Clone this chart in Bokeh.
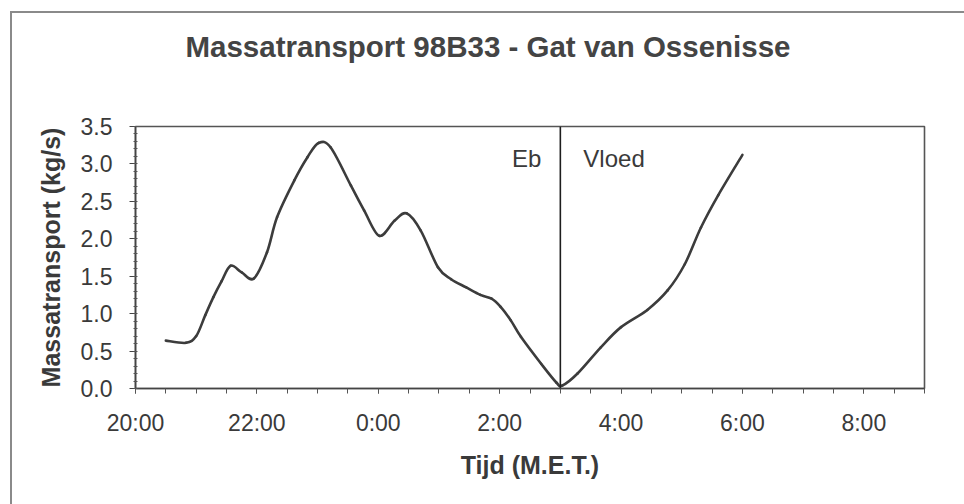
from bokeh.plotting import figure
from bokeh.layouts import column
from bokeh.models import Range1d, FixedTicker, Label, Span, Div, ColumnDataSource
from bokeh.embed import file_html
from bokeh.resources import INLINE

# Measured mass transport (kg/s) against clock time (M.E.T.)
times = ["20:30", "20:50", "21:00", "21:09", "21:17", "21:25", "21:34", "21:45",
         "21:57", "22:10", "22:20", "22:37", "22:50", "23:01", "23:13", "23:33",
         "23:46", "0:01", "0:16", "0:28", "0:42", "0:59", "1:12", "1:27",
         "1:41", "1:52", "2:01", "2:11", "2:21", "2:41", "2:56", "3:02",
         "3:17", "3:40", "4:00", "4:26", "4:46", "5:03", "5:19", "5:36", "6:00"]
transport = [0.64, 0.61, 0.70, 0.98, 1.22, 1.43, 1.64, 1.55,
             1.47, 1.82, 2.29, 2.78, 3.09, 3.28, 3.22, 2.71,
             2.38, 2.04, 2.24, 2.34, 2.11, 1.62, 1.46, 1.35,
             1.25, 1.20, 1.09, 0.91, 0.69, 0.33, 0.08, 0.04,
             0.20, 0.55, 0.82, 1.05, 1.31, 1.66, 2.15, 2.58, 3.12]

tick_labels = ["20:00", "22:00", "0:00", "2:00", "4:00", "6:00", "8:00"]
y_ticks = [0.0, 0.5, 1.0, 1.5, 2.0, 2.5, 3.0, 3.5]
turn_of_tide = "3:00"
title_text = "Massatransport 98B33 - Gat van Ossenisse"

START_HOUR = 20


def hours_since_start(t):
    hh, mm = t.split(":")
    return (int(hh) - START_HOUR) % 24 + int(mm) / 60.0


def smoothed_segments(x, y):
    """Cubic Bezier pieces through every point (Catmull-Rom style smoothing)."""
    n = len(x)
    seg = {k: [] for k in ("x0", "y0", "x1", "y1", "cx0", "cy0", "cx1", "cy1")}
    for i in range(n - 1):
        xp, yp = (x[i - 1], y[i - 1]) if i > 0 else (x[i], y[i])
        xn, yn = (x[i + 2], y[i + 2]) if i + 2 < n else (x[i + 1], y[i + 1])
        seg["x0"].append(x[i])
        seg["y0"].append(y[i])
        seg["x1"].append(x[i + 1])
        seg["y1"].append(y[i + 1])
        seg["cx0"].append(x[i] + (x[i + 1] - xp) / 6.0)
        seg["cy0"].append(y[i] + (y[i + 1] - yp) / 6.0)
        seg["cx1"].append(x[i + 1] - (xn - x[i]) / 6.0)
        seg["cy1"].append(y[i + 1] - (yn - y[i]) / 6.0)
    return seg


xs = [hours_since_start(t) for t in times]
tick_pos = [hours_since_start(t) for t in tick_labels]
x_turn = hours_since_start(turn_of_tide)

FONT = "Liberation Sans"
TXT = "#3a3a3a"

title_div = Div(text=title_text, width=952, height=76, margin=0,
                styles={"font-family": FONT, "font-size": "29.5px",
                        "font-weight": "bold", "color": "#444444",
                        "text-align": "center", "line-height": "68px",
                        "white-space": "nowrap"})

p = figure(width=952, height=415, output_backend="svg", toolbar_location=None,
           x_range=Range1d(0, 13), y_range=Range1d(0, 3.5),
           min_border_left=123, min_border_right=40,
           min_border_top=37, min_border_bottom=116)
p.margin = 0
p.background_fill_color = "white"
p.border_fill_color = "white"
p.outline_line_color = "#555555"
p.outline_line_width = 1.6
p.xgrid.visible = False
p.ygrid.visible = False

# x axis: labels every two hours, ticks every half hour
xa = p.xaxis[0]
xa.ticker = FixedTicker(ticks=tick_pos,
                        minor_ticks=[i * 0.5 for i in range(0, 27)])
xa.major_label_overrides = {pos: lab for pos, lab in zip(tick_pos, tick_labels)}
xa.axis_label = "Tijd (M.E.T.)"

ya = p.yaxis[0]
ya.ticker = FixedTicker(ticks=y_ticks,
                        minor_ticks=[i * 0.1 for i in range(0, 36)])
ya.major_label_overrides = {v: f"{v:.1f}" for v in y_ticks}
ya.axis_label = "Massatransport (kg/s)"

for ax in (xa, ya):
    ax.axis_line_color = "#444444"
    ax.axis_line_width = 1.6
    ax.major_tick_line_color = "#444444"
    ax.minor_tick_line_color = "#555555"
    ax.major_tick_in = 0
    ax.major_label_text_font = FONT
    ax.major_label_text_font_size = "23px"
    ax.major_label_text_color = TXT
    ax.axis_label_text_font = FONT
    ax.axis_label_text_font_size = "25px"
    ax.axis_label_text_font_style = "bold"
    ax.axis_label_text_color = TXT

xa.major_tick_out = 5
xa.minor_tick_out = 5
xa.minor_tick_in = 0
xa.major_label_standoff = 16
xa.axis_label_standoff = 12

ya.major_tick_out = 6
ya.minor_tick_out = 2
ya.minor_tick_in = 2
ya.major_label_standoff = 17
ya.axis_label_standoff = 13

# boundary between ebb and flood
p.add_layout(Span(location=x_turn, dimension="height",
                  line_color="#1e1e1e", line_width=1.6))

curve = ColumnDataSource(smoothed_segments(xs, transport))
p.bezier(x0="x0", y0="y0", x1="x1", y1="y1", cx0="cx0", cy0="cy0",
         cx1="cx1", cy1="cy1", source=curve,
         line_color="#3c3c3c", line_width=2.6, line_cap="round")

p.add_layout(Label(x=x_turn, y=3.07, x_offset=-19, text="Eb",
                   text_align="right", text_baseline="middle",
                   text_font=FONT, text_font_size="24px", text_color=TXT))
p.add_layout(Label(x=x_turn, y=3.07, x_offset=23, text="Vloed",
                   text_align="left", text_baseline="middle",
                   text_font=FONT, text_font_size="24px", text_color=TXT))

chart = column(title_div, p, spacing=0)
chart.margin = (11, 0, 0, 10)
chart.styles = {"border-left": "2px solid #8a8a8a",
                "border-top": "2px solid #8a8a8a",
                "background-color": "white"}

open("out.html", "w").write(file_html(chart, INLINE))
